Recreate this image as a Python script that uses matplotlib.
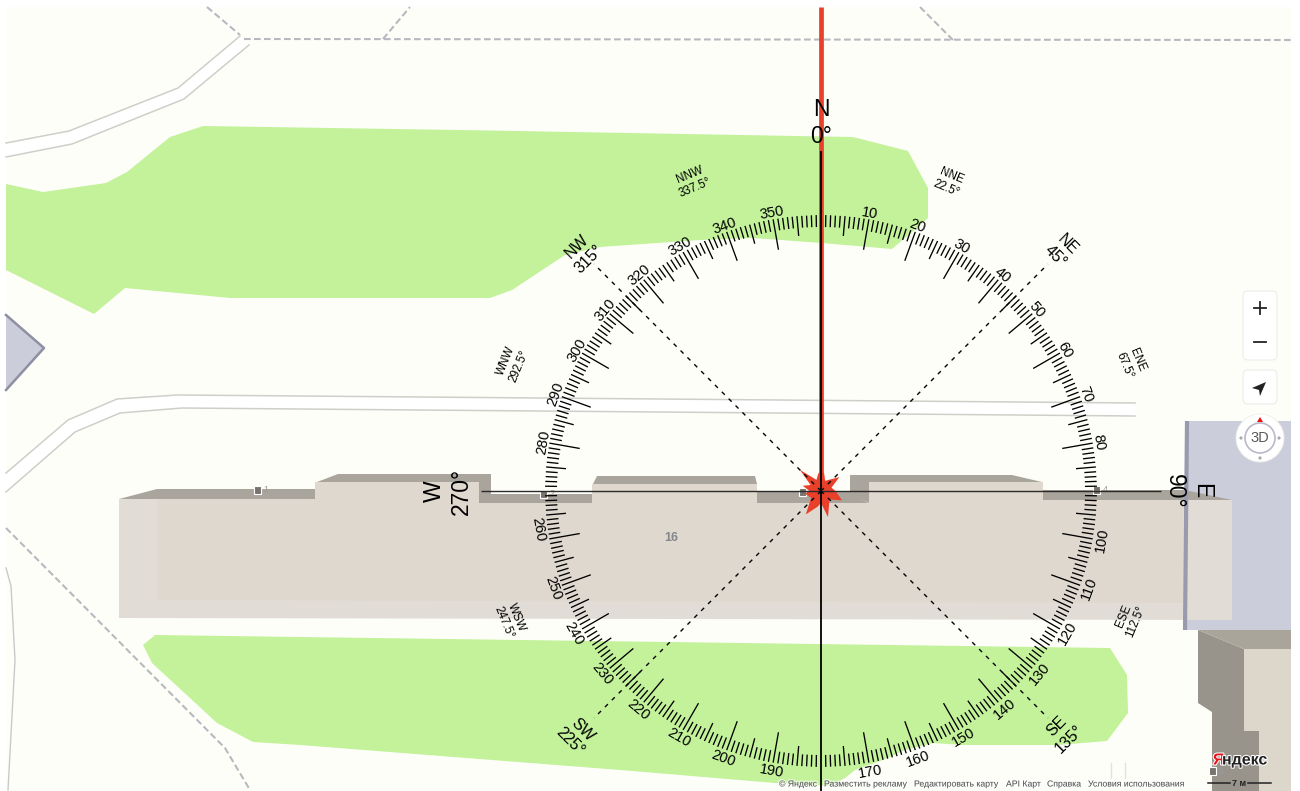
import matplotlib
matplotlib.use("Agg")
import matplotlib.pyplot as plt
import matplotlib.patheffects as pe
from matplotlib.patches import Polygon, Rectangle, Circle, FancyBboxPatch
import numpy as np

plt.rcParams['font.family'] = ['Liberation Sans', 'DejaVu Sans']

W, H = 1300, 791
CX, CY = 821, 491   # compass centre in picture pixels
R = 276             # outer end of the degree ticks

# compass
minor_deg = [d for d in range(360) if d % 5 != 0]
mid_deg = [d for d in range(5, 360, 10)]
long_deg = [d for d in range(10, 360, 10) if d % 90 != 0]
label_deg = long_deg
label_nudge = {260: 2.3}  # this one sits off its tick in the picture
cardinal_deg = [0, 90, 180, 270]
diagonal_deg = [45, 135, 225, 315]
sector_deg = [0, 45, 90, 135, 225, 270, 315]
sector_names = ["N", "NE", "E", "SE", "SW", "W", "NW"]
sector_r = [368, 340, 367, 342, 346, 373, 337]
sub_deg = [22.5, 67.5, 112.5, 247.5, 292.5, 337.5]
sub_names = ["NNE", "ENE", "ESE", "WSW", "WNW", "NNW"]
sub_r = [334, 335, 334, 337, 334, 335]
bearing_deg = 0
bearing_len = 484
star_deg = [0, 10, 22, 53, 72, 92, 114, 135, 165, 180, 192, 213, 235, 260, 272, 286, 300, 315, 338, 350]
star_r = [22, 18, 11, 23, 11, 15, 23, 12, 27, 12, 16, 28, 12, 16, 12, 19, 12, 30, 12, 17]

# map shapes, picture pixels
green_top = [(6, 184), (43, 192), (106, 183), (127, 172), (170, 137), (203, 126), (460, 130), (853, 137), (908, 151),
             (928, 188), (928, 218), (912, 232), (892, 249), (822, 243), (753, 238), (700, 240), (600, 247), (565, 255),
             (512, 290), (490, 298), (230, 298), (125, 288), (94, 314), (6, 270)]
green_bottom = [(143, 645), (155, 635), (300, 637), (1110, 648), (1127, 675), (1128, 713), (1107, 741), (1058, 745),
                (963, 745), (933, 743), (905, 750), (883, 760), (855, 770), (845, 778), (830, 786), (775, 783),
                (620, 770), (300, 745), (253, 742), (217, 723), (152, 663)]
road_top_a = [(6, 143), (69, 131), (178, 88), (240, 36)]
road_top_b = [(6, 157), (72, 144), (184, 99), (249, 45)]
road_mid_a = [(6, 473), (68, 420), (117, 399), (177, 395), (300, 396), (1135, 403)]
road_mid_b = [(6, 492), (75, 432), (120, 413), (182, 408), (300, 409), (1135, 416)]
path_solid = [(6, 568), (11, 586), (15, 660), (8, 790)]
path_dashed = [[(207, 7), (240, 35)], [(244, 39), (1291, 40)], [(383, 39), (410, 7)], [(920, 7), (953, 40)],
               [(6, 528), (225, 748), (250, 790)]]
body = [(119, 499), (315, 499), (315, 482), (479, 482), (479, 503), (592, 503), (592, 484), (757, 484), (757, 503),
        (869, 503), (869, 482), (1043, 482), (1043, 500), (1232, 500), (1232, 620), (119, 618)]
roof = [(157, 499), (315, 499), (315, 482), (479, 482), (479, 503), (592, 503), (592, 484), (757, 484), (757, 503),
        (869, 503), (869, 482), (1043, 482), (1043, 500), (1183, 500), (1183, 603), (157, 600)]
walls = [[(119, 499), (157, 489), (315, 489), (315, 499)],
         [(317, 482), (338, 474), (491, 474), (491, 494), (592, 494), (592, 503), (479, 503), (479, 482)],
         [(593, 484), (597, 476), (755, 476), (757, 484)],
         [(757, 492), (850, 492), (868, 503), (757, 503)],
         [(850, 475), (1012, 475), (1042, 482), (869, 482), (869, 503), (850, 494)],
         [(1043, 490), (1185, 490), (1232, 500), (1043, 500)]]
lilac_right = [(1187, 421), (1291, 421), (1291, 630), (1185, 630)]
lilac_left = [(6, 315), (44, 348), (6, 390)]
side_face = [(1198, 630), (1244, 649), (1244, 731), (1259, 731), (1259, 791), (1212, 791), (1212, 712), (1198, 703)]
side_top = [(1198, 630), (1291, 630), (1291, 649), (1244, 649)]
side_roof = [(1244, 649), (1291, 649), (1291, 791), (1259, 791), (1259, 731), (1244, 731)]
entrances = [(258, 490, "1"), (544, 494, "2"), (803, 492, "3"), (1097, 490, "4"), (1213, 771, "5")]
footer_x = [779, 824, 914, 1006, 1047, 1088]
footer_text = ["© Яндекс", "Разместить рекламу", "Редактировать карту", "API Карт", "Справка", "Условия использования"]

fig = plt.figure(figsize=(W / 100, H / 100), dpi=100, facecolor="white")

# map layer
m = fig.add_axes([0, 0, 1, 1])
m.set_xlim(0, W)
m.set_ylim(H, 0)
m.axis("off")
m.add_patch(Rectangle((6, 7), 1285, 784, fc="#fefef9", ec="none"))

for a, b in [(road_top_a, road_top_b), (road_mid_a, road_mid_b)]:
    m.add_patch(Polygon(a + b[::-1], fc="white", ec="none"))
    for line in (a, b):
        m.plot(*zip(*line), color="#cfcfca", lw=1.1)
m.plot(*zip(*path_solid), color="#c9c9c6", lw=1)
for line in path_dashed:
    m.plot(*zip(*line), color="#b8b9bf", lw=1.5, linestyle=(0, (3.2, 1.6)))
for x in [1111, 1125]:
    m.plot([x, x], [763, 778], color="#e2e2de", lw=1)

m.add_patch(Polygon(green_top, fc="#c3f29b", ec="none"))
m.add_patch(Polygon(green_bottom, fc="#c3f29b", ec="none"))

m.add_patch(Polygon(lilac_left, fc="#cccddb", ec="none"))
m.plot([6, 44, 6], [315, 348, 390], color="#8f8fa3", lw=1.8)
m.add_patch(Polygon(lilac_right, fc="#cccddb", ec="none"))
m.plot([1187, 1185], [421, 630], color="#9a9aae", lw=3, solid_capstyle="butt")
m.add_patch(Polygon(side_face, fc="#98938b", ec="none"))
m.add_patch(Polygon(side_top, fc="#aaa59b", ec="none"))
m.add_patch(Polygon(side_roof, fc="#ddd6cb", ec="none"))

m.add_patch(Polygon(body, fc="#e1ddd6", ec="none"))
m.add_patch(Polygon(roof, fc="#dfd8cf", ec="none"))
for w in walls:
    m.add_patch(Polygon(w, fc="#aaa59c", ec="none"))
m.text(671, 538, "16", fontsize=9, color="#85858c", weight="bold", ha="center", va="center")

for x, y, n in entrances:
    m.add_patch(Rectangle((x - 4, y - 4), 7, 8, fc="#77736e", ec="white", lw=0.8))
    m.text(x + 8, y, n, fontsize=6.5, color="#9b9b9b", ha="center", va="center")

# map controls
for x, y, bw, bh in [(1243, 291, 34, 69), (1243, 370, 34, 34)]:
    m.add_patch(FancyBboxPatch((x + 4, y + 4), bw - 8, bh - 8, boxstyle="round,pad=4,rounding_size=5", fc="white",
                               ec="#ecece8", lw=0.8))
m.plot([1254, 1266], [308, 308], color="#222222", lw=1.3)
m.plot([1260, 1260], [302, 314], color="#222222", lw=1.3)
m.plot([1254, 1266], [342, 342], color="#222222", lw=1.3)
m.add_patch(Polygon([(1266, 382), (1252, 388), (1259, 390), (1260, 396)], fc="#222222", ec="none"))
m.add_patch(Circle((1260, 438), 24, fc="white", ec="#eeeeea", lw=0.6))
m.add_patch(Circle((1260, 438), 15, fc="white", ec="#b9b9c8", lw=1.2))
m.text(1260, 438.5, "3D", fontsize=10.5, color="#5a5a5a", ha="center", va="center")
for x, y in [(1241, 438), (1279, 438), (1260, 458)]:
    m.add_patch(Circle((x, y), 1.6, fc="#a8a8a8", ec="none"))
m.add_patch(Polygon([(1257, 422), (1263, 422), (1260, 417)], fc="#ee1111", ec="none"))

# footer
for x, t in zip(footer_x, footer_text):
    m.text(x, 784, t, fontsize=6.25, color="#555555", ha="left", va="center",
           path_effects=[pe.withStroke(linewidth=2, foreground="white", alpha=0.6)])
halo = [pe.withStroke(linewidth=1.5, foreground="white")]
m.text(1213, 760, "Я", fontsize=11.5, weight="bold", color="#e8131a", ha="left", va="center", path_effects=halo)
m.text(1222, 760, "ндекс", fontsize=11.5, weight="bold", color="#222222", ha="left", va="center", path_effects=halo)
m.plot([1208, 1230], [783, 783], color="#222222", lw=1.1)
m.plot([1248, 1271], [783, 783], color="#222222", lw=1.1)
m.text(1239, 783, "7 м", fontsize=6.5, weight="bold", color="#222222", ha="center", va="center")

# compass layer
ax = fig.add_axes([(CX - R) / W, (H - CY - R) / H, 2 * R / W, 2 * R / H], projection="polar")
ax.set_theta_zero_location("N")
ax.set_theta_direction(-1)
ax.set_rlim(0, R)
ax.set_axis_off()
ax.patch.set_alpha(0)

RED = "#e8402a"
ax.plot(np.radians([bearing_deg, bearing_deg]), [0, bearing_len], color=RED, lw=3.4, clip_on=False,
        solid_capstyle="butt", zorder=2)
ax.fill(np.radians(star_deg), star_r, color=RED, lw=0, clip_on=False, zorder=2)

for d in cardinal_deg:
    vertical = d % 180 == 0
    ax.plot(np.radians([d, d]), [0, 340], color="black" if vertical else "#2a2a2a", lw=1.3 if vertical else 1,
            clip_on=False, solid_capstyle="butt", zorder=3)
for d in diagonal_deg:
    ax.plot(np.radians([d, d]), [0, 321], color="black", lw=1, linestyle=(0, (3, 4)), clip_on=False, zorder=3)

ax.vlines(np.radians(minor_deg), 264, R, color="black", lw=0.95, zorder=3)
ax.vlines(np.radians(mid_deg), 256, R, color="black", lw=0.95, zorder=3)
ax.vlines(np.radians(long_deg), 245, R, color="black", lw=0.95, zorder=3)


def turn(d):
    # text reads from outside on the top half, from inside on the bottom half
    return 180 - d if 90 < d < 270 else -d


for d in label_deg:
    top = d < 90 or d > 270
    ax.text(np.radians(d + label_nudge.get(d, 0)), 282 if top else 285, str(d), fontsize=10.5, rotation=turn(d),
            rotation_mode="anchor", ha="center", va="center", clip_on=False, zorder=4)
for d, n, r in zip(sector_deg, sector_names, sector_r):
    size = 16.5 if d % 90 == 0 else 11.5
    ax.text(np.radians(d), r, "{}\n{:g}°".format(n, d), fontsize=size, rotation=turn(d), rotation_mode="anchor",
            ha="center", va="center", multialignment="center", clip_on=False, zorder=4)
for d, n, r in zip(sub_deg, sub_names, sub_r):
    ax.text(np.radians(d), r, "{}\n{:g}°".format(n, d), fontsize=8.4, rotation=turn(d), rotation_mode="anchor",
            ha="center", va="center", multialignment="center", clip_on=False, zorder=4)

fig.savefig("out.png", dpi=100)
